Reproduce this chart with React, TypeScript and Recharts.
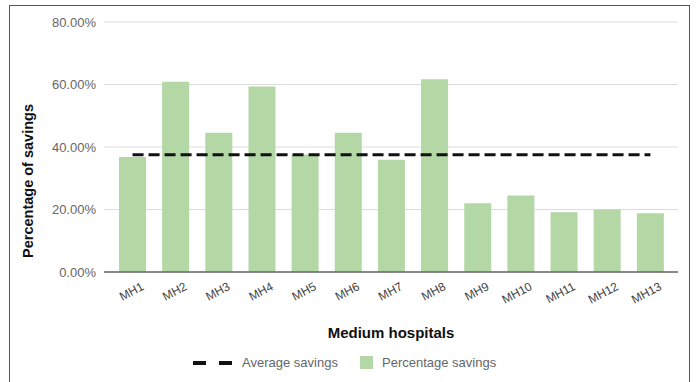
import React from 'react'
import { ComposedChart, Bar, Line, XAxis, YAxis, CartesianGrid, Legend } from 'recharts'

const hospitals = ['MH1', 'MH2', 'MH3', 'MH4', 'MH5', 'MH6', 'MH7', 'MH8', 'MH9', 'MH10', 'MH11', 'MH12', 'MH13']
const percentageSavings = [36.8, 60.9, 44.6, 59.4, 37.6, 44.6, 35.9, 61.7, 22.0, 24.5, 19.1, 20.0, 18.8]
const averageSavings = [37.5, 37.5, 37.5, 37.5, 37.5, 37.5, 37.5, 37.5, 37.5, 37.5, 37.5, 37.5, 37.5]
const yTicks = [0, 20, 40, 60, 80]

const data = hospitals.map((name, i) => ({
    name,
    pct: percentageSavings[i],
    avg: averageSavings[i],
}))

const FONT = '"Liberation Sans", Arial, sans-serif'
const GREEN = '#b4d7a6'

function RotatedTick(props: any) {
    const { x, y, payload } = props
    return (
        <g transform={`translate(${x + 12},${y + 9})`}>
            <text x={0} y={0} textAnchor="end" fill="#444" fontSize={12} fontFamily={FONT} transform="rotate(-28)">
                {payload.value}
            </text>
        </g>
    )
}

function LegendBox() {
    return (
        <div style={{ position: 'relative', height: 40, fontFamily: FONT, fontSize: 13, color: '#666' }}>
            <svg style={{ position: 'absolute', left: 193, top: 19 }} width={40} height={4}>
                <line x1={0} y1={2} x2={40} y2={2} stroke="#111" strokeWidth={4} strokeDasharray="13 13" />
            </svg>
            <span style={{ position: 'absolute', left: 242, top: 13, whiteSpace: 'nowrap' }}>Average savings</span>
            <div style={{ position: 'absolute', left: 360, top: 14, width: 13, height: 13, background: GREEN }} />
            <span style={{ position: 'absolute', left: 382, top: 13, whiteSpace: 'nowrap' }}>Percentage savings</span>
        </div>
    )
}

export default function App() {
    return (
        <div style={{ position: 'absolute', left: 0, top: 0, width: 696, height: 382, background: '#fff', overflow: 'hidden' }}>
            <div style={{ position: 'absolute', left: 9, top: 5, width: 679, height: 380, border: '1px solid #555', borderBottom: 'none' }} />
            <ComposedChart
                width={696}
                height={382}
                data={data}
                margin={{ top: 22, right: 18, bottom: 0, left: 0 }}
                barCategoryGap={0}
            >
                <CartesianGrid vertical={false} stroke="#dcdcdc" />
                <XAxis
                    dataKey="name"
                    height={70}
                    padding={{ left: 7, right: 6 }}
                    tickLine={false}
                    axisLine={{ stroke: '#666', strokeWidth: 1.5 }}
                    interval={0}
                    tick={<RotatedTick />}
                    label={({ viewBox }: any) => (
                        <text x={391} y={viewBox.y + 66} textAnchor="middle" fontFamily={FONT} fontSize={15} fontWeight="bold" fill="#111">
                            Medium hospitals
                        </text>
                    )}
                />
                <YAxis
                    width={104}
                    domain={[0, 80]}
                    ticks={yTicks}
                    tickLine={false}
                    axisLine={false}
                    tickMargin={2}
                    tickFormatter={(v: number) => v.toFixed(2) + '%'}
                    tick={{ fill: '#666', fontSize: 13, fontFamily: FONT }}
                    label={() => (
                        <text
                            x={33}
                            y={181}
                            textAnchor="middle"
                            fontFamily={FONT}
                            fontSize={14.5}
                            fontWeight="bold"
                            fill="#111"
                            transform="rotate(-90, 33, 181)"
                        >
                            Percentage of savings
                        </text>
                    )}
                />
                <Legend verticalAlign="bottom" content={<LegendBox />} />
                <Bar dataKey="pct" name="Percentage savings" fill={GREEN} barSize={27} isAnimationActive={false} />
                <Line
                    dataKey="avg"
                    name="Average savings"
                    type="linear"
                    stroke="#111"
                    strokeWidth={3}
                    strokeDasharray="11 5"
                    dot={false}
                    activeDot={false}
                    isAnimationActive={false}
                />
            </ComposedChart>
        </div>
    )
}
